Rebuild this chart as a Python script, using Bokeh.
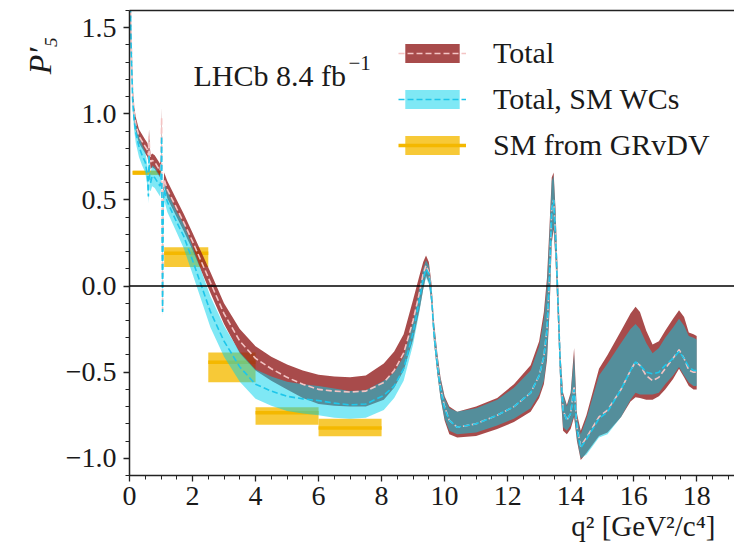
from bokeh.plotting import figure
from bokeh.models import (Range1d, FixedTicker, CustomJSTickFormatter, Span, Label,
                          Legend, LegendItem, LinearAxis, Title)
from bokeh.embed import file_html
from bokeh.resources import INLINE

# ---------------- data ----------------
Q2 = [0.02, 0.05, 0.1, 0.15, 0.2, 0.3, 0.4, 0.5, 0.57, 0.6,
      0.62, 0.64, 0.67, 0.72, 0.8, 0.9, 0.97, 1.0, 1.02, 1.035,
      1.05, 1.07, 1.1, 1.2, 1.5, 1.72, 2.0, 2.57, 3.0, 3.5,
      4.0, 4.5, 5.0, 5.5, 6.0, 6.5, 7.0, 7.5, 8.07, 8.4,
      8.7, 9.0, 9.2, 9.32, 9.41, 9.5, 9.58, 9.66, 9.77, 9.87,
      10.0, 10.15, 10.4, 11.0, 11.67, 12.2, 12.73, 13.0, 13.15, 13.25,
      13.33, 13.4, 13.46, 13.52, 13.6, 13.68, 13.76, 13.88, 14.0, 14.11,
      14.2, 14.32, 14.5, 14.9, 15.17, 15.6, 15.9, 16.06, 16.2, 16.4,
      16.6, 16.8, 17.0, 17.25, 17.44, 17.6, 17.75, 17.9, 18.0]

# "Total" (red band): central value, lower and upper edge
TOT_C = [1.80, 1.45, 1.12, 1.00, 0.94, 0.87, 0.84, 0.81, 0.79, 0.76,
         0.87, 0.78, 0.72, 0.73, 0.72, 0.69, 0.67, 0.71, 0.98, 0.40,
         -0.14, 0.50, 0.62, 0.56, 0.45, 0.37, 0.26, 0.02, -0.16, -0.32,
         -0.42, -0.48, -0.53, -0.57, -0.60, -0.61, -0.615, -0.61, -0.56, -0.49,
         -0.39, -0.20, -0.04, 0.07, 0.12, 0.08, -0.04, -0.26, -0.45, -0.59,
         -0.70, -0.78, -0.82, -0.80, -0.75, -0.70, -0.62, -0.52, -0.41, -0.25,
         0.05, 0.45, 0.50, 0.30, -0.10, -0.50, -0.72, -0.78, -0.74, -0.58,
         -0.82, -0.93, -0.88, -0.76, -0.72, -0.60, -0.49, -0.44, -0.46, -0.52,
         -0.55, -0.53, -0.48, -0.42, -0.37, -0.42, -0.49, -0.50, -0.50]
TOT_LO = [1.74, 1.40, 1.08, 0.96, 0.90, 0.83, 0.80, 0.77, 0.75, 0.72,
          0.83, 0.74, 0.68, 0.69, 0.68, 0.65, 0.63, 0.67, 0.93, 0.30,
          -0.18, 0.46, 0.58, 0.51, 0.40, 0.32, 0.21, -0.04, -0.22, -0.39,
          -0.49, -0.55, -0.60, -0.65, -0.685, -0.695, -0.70, -0.70, -0.66, -0.59,
          -0.49, -0.31, -0.14, -0.02, 0.06, 0.02, -0.10, -0.32, -0.51, -0.65,
          -0.78, -0.86, -0.88, -0.87, -0.83, -0.79, -0.73, -0.65, -0.57, -0.43,
          -0.15, 0.25, 0.33, 0.15, -0.22, -0.62, -0.84, -0.86, -0.83, -0.76,
          -0.90, -1.01, -0.97, -0.87, -0.85, -0.76, -0.67, -0.645, -0.65, -0.66,
          -0.66, -0.64, -0.60, -0.54, -0.48, -0.53, -0.58, -0.60, -0.60]
TOT_HI = [1.86, 1.50, 1.16, 1.04, 0.98, 0.91, 0.88, 0.85, 0.83, 0.80,
          0.91, 0.82, 0.76, 0.77, 0.76, 0.73, 0.71, 0.75, 1.04, 0.50,
          -0.10, 0.54, 0.66, 0.61, 0.50, 0.42, 0.31, 0.08, -0.10, -0.25,
          -0.35, -0.41, -0.455, -0.49, -0.515, -0.525, -0.53, -0.52, -0.45, -0.38,
          -0.28, -0.08, 0.06, 0.14, 0.177, 0.14, 0.02, -0.20, -0.39, -0.53,
          -0.64, -0.70, -0.73, -0.70, -0.65, -0.57, -0.46, -0.32, -0.15, 0.05,
          0.35, 0.63, 0.66, 0.45, 0.02, -0.40, -0.62, -0.69, -0.62, -0.36,
          -0.74, -0.84, -0.75, -0.48, -0.40, -0.26, -0.16, -0.12, -0.15, -0.26,
          -0.34, -0.32, -0.26, -0.19, -0.14, -0.18, -0.27, -0.28, -0.29]

# "Total, SM WCs" (cyan band): central value, lower and upper edge
SMW_C = [1.78, 1.40, 1.08, 0.96, 0.89, 0.81, 0.76, 0.72, 0.64, 0.52,
         0.76, 0.62, 0.60, 0.64, 0.63, 0.60, 0.58, 0.62, 0.87, 0.30,
         -0.15, 0.45, 0.56, 0.49, 0.37, 0.29, 0.15, -0.15, -0.32, -0.47,
         -0.57, -0.61, -0.64, -0.655, -0.665, -0.68, -0.69, -0.685, -0.635, -0.58,
         -0.48, -0.27, -0.08, 0.04, 0.10, 0.07, -0.05, -0.27, -0.46, -0.60,
         -0.71, -0.78, -0.82, -0.80, -0.75, -0.70, -0.62, -0.52, -0.41, -0.25,
         0.05, 0.45, 0.50, 0.30, -0.10, -0.50, -0.72, -0.78, -0.74, -0.60,
         -0.83, -0.94, -0.89, -0.77, -0.73, -0.60, -0.49, -0.44, -0.46, -0.50,
         -0.51, -0.50, -0.46, -0.42, -0.38, -0.42, -0.47, -0.49, -0.49]
SMW_LO = [1.70, 1.33, 1.02, 0.90, 0.83, 0.75, 0.70, 0.66, 0.58, 0.48,
          0.71, 0.56, 0.55, 0.58, 0.57, 0.54, 0.52, 0.56, 0.83, 0.20,
          -0.19, 0.40, 0.50, 0.43, 0.31, 0.22, 0.07, -0.24, -0.41, -0.555,
          -0.655, -0.695, -0.725, -0.74, -0.75, -0.765, -0.77, -0.765, -0.72, -0.65,
          -0.55, -0.34, -0.15, -0.02, 0.05, 0.01, -0.10, -0.32, -0.51, -0.65,
          -0.77, -0.84, -0.86, -0.85, -0.81, -0.77, -0.71, -0.63, -0.55, -0.41,
          -0.13, 0.27, 0.35, 0.17, -0.20, -0.60, -0.82, -0.84, -0.81, -0.75,
          -0.89, -1.00, -0.98, -0.88, -0.86, -0.76, -0.66, -0.62, -0.63, -0.63,
          -0.63, -0.62, -0.57, -0.52, -0.47, -0.52, -0.56, -0.58, -0.58]
SMW_HI = [1.86, 1.47, 1.14, 1.02, 0.95, 0.87, 0.82, 0.78, 0.70, 0.58,
          0.81, 0.68, 0.66, 0.70, 0.69, 0.66, 0.64, 0.68, 0.91, 0.40,
          -0.11, 0.50, 0.62, 0.55, 0.43, 0.36, 0.23, -0.06, -0.23, -0.385,
          -0.485, -0.525, -0.555, -0.57, -0.58, -0.595, -0.61, -0.605, -0.55, -0.50,
          -0.41, -0.20, -0.01, 0.10, 0.15, 0.12, 0.00, -0.21, -0.40, -0.54,
          -0.65, -0.71, -0.73, -0.71, -0.66, -0.59, -0.49, -0.35, -0.19, 0.01,
          0.31, 0.61, 0.64, 0.43, 0.00, -0.41, -0.63, -0.70, -0.63, -0.40,
          -0.76, -0.86, -0.77, -0.52, -0.45, -0.33, -0.25, -0.22, -0.25, -0.33,
          -0.39, -0.36, -0.30, -0.24, -0.19, -0.23, -0.29, -0.30, -0.31]

# "SM from GRvDV" bins
BIN_LO = [0.1, 1.1, 2.5, 4.0, 6.0]
BIN_HI = [0.98, 2.5, 4.0, 6.0, 8.0]
SM_C = [0.658, 0.19, -0.443, -0.735, -0.824]
SM_LO = [0.645, 0.11, -0.559, -0.805, -0.872]
SM_HI = [0.671, 0.225, -0.386, -0.703, -0.770]

X_TICKS = [0, 2, 4, 6, 8, 10, 12, 14, 16, 18]
X_MINOR = [i * 0.5 for i in range(0, 39)]
Y_TICKS = [-1.0, -0.5, 0.0, 0.5, 1.0, 1.5]
Y_MINOR = [round(-1.1 + i * 0.1, 1) for i in range(0, 28)]

FONT = "Liberation Serif"
TXT = "#1a1a1a"

# ---------------- figure ----------------
p = figure(width=734, height=549, x_range=Range1d(0, 19.2), y_range=Range1d(-1.1, 1.6),
           output_backend="svg", toolbar_location=None,
           min_border_left=129, min_border_right=0, min_border_top=10, min_border_bottom=74)
p.grid.visible = False
p.outline_line_color = None
p.background_fill_color = "white"

for ax in (p.xaxis[0], p.yaxis[0]):
    ax.axis_line_color = "#222222"
    ax.axis_line_width = 1.5
    ax.major_tick_line_color = "#222222"
    ax.minor_tick_line_color = "#222222"
    ax.major_tick_line_width = 1.3
    ax.minor_tick_line_width = 1.0
    ax.major_tick_in = 0
    ax.major_tick_out = 6
    ax.minor_tick_in = 0
    ax.minor_tick_out = 4
    ax.major_label_text_font = FONT
    ax.major_label_text_font_size = "28px"
    ax.major_label_text_color = TXT

p.xaxis[0].ticker = FixedTicker(ticks=X_TICKS, minor_ticks=X_MINOR)
p.xaxis[0].major_label_standoff = 5
p.yaxis[0].ticker = FixedTicker(ticks=Y_TICKS, minor_ticks=Y_MINOR)
p.yaxis[0].major_label_standoff = 7
p.yaxis[0].formatter = CustomJSTickFormatter(
    code='return (tick < 0 ? "\\u2212" : "") + Math.abs(tick).toFixed(1);')

top_ax = LinearAxis(ticker=FixedTicker(ticks=[]), major_label_text_font_size="0px",
                    major_tick_out=0, minor_tick_out=0, major_label_standoff=0,
                    axis_line_color="#222222", axis_line_width=1.5)
p.add_layout(top_ax, "above")

# axis titles
p.add_layout(Title(text="P\u2032\u2085", align="right", offset=26, standoff=10,
                   text_font=FONT, text_font_style="italic", text_font_size="32px",
                   text_color=TXT), "left")
p.add_layout(Title(text="q\u00b2 [GeV\u00b2/c\u2074]", align="right", offset=19, standoff=0,
                   text_font=FONT, text_font_style="normal", text_font_size="29px",
                   text_color=TXT), "below")

p.add_layout(Span(location=0, dimension="width", line_color="black", line_width=1.5))

# yellow bins (drawn first, under the bands)
r_quad = p.quad(left=BIN_LO, right=BIN_HI, bottom=SM_LO, top=SM_HI,
                fill_color="#f7c62c", fill_alpha=0.95, line_color=None)
r_seg = p.segment(x0=BIN_LO, y0=SM_C, x1=BIN_HI, y1=SM_C,
                  line_color="#f4b800", line_width=3.5)

# red band, then cyan band on top
r_red = p.varea(x=Q2, y1=TOT_LO, y2=TOT_HI, fill_color="#921e1e", fill_alpha=0.8)
r_cy = p.varea(x=Q2, y1=SMW_LO, y2=SMW_HI, fill_color="#00d1eb", fill_alpha=0.5)

r_red_l = p.line(Q2, TOT_C, line_color="#f4c4c4", line_width=1.6, line_dash="6 3")
r_cy_l = p.line(Q2, SMW_C, line_color="#1ec6ea", line_width=1.6, line_dash="6 3")

legend = Legend(items=[
    LegendItem(label="Total", renderers=[r_red, r_red_l]),
    LegendItem(label="Total, SM WCs", renderers=[r_cy, r_cy_l]),
    LegendItem(label="SM from GRvDV", renderers=[r_quad, r_seg]),
], location=(269, 313))
legend.background_fill_alpha = 0
legend.border_line_color = None
legend.padding = 0
legend.margin = 0
legend.glyph_width = 68
legend.glyph_height = 24
legend.label_height = 24
legend.spacing = 12
legend.label_standoff = 27
legend.label_text_font = FONT
legend.label_text_font_size = "30px"
legend.label_text_color = TXT
p.add_layout(legend)

# ---------------- in-frame annotation (page pixel positions -> frame screen units) ----------------
FRAME_LEFT_PAGE = 129
FRAME_BOTTOM_PAGE = 475


def add_text(txt, px, py, size, style="normal"):
    p.add_layout(Label(x=px - FRAME_LEFT_PAGE, y=FRAME_BOTTOM_PAGE - py,
                       x_units="screen", y_units="screen", text=txt,
                       text_font=FONT, text_font_size=f"{size}px", text_font_style=style,
                       text_color=TXT, text_align="left", text_baseline="alphabetic"))


add_text("LHCb 8.4 fb", 193, 75, 30)
add_text("\u22121", 348, 62, 21)

open("out.html", "w").write(file_html(p, INLINE))
